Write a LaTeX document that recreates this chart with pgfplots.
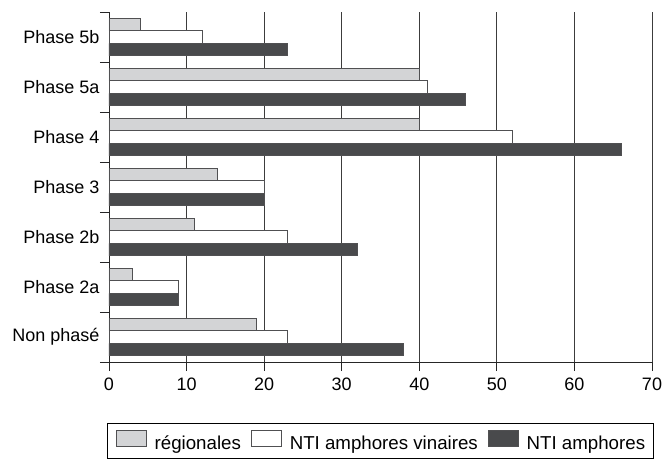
\documentclass[border=0pt]{standalone}
\usepackage{fontspec}
\setmainfont{Liberation Sans}
\usepackage{pgfplots}
\usepackage{pgfplotstable}
\pgfplotsset{compat=1.18}

\definecolor{barlight}{RGB}{211,212,214}
\definecolor{bardark}{RGB}{73,74,76}
\definecolor{baredge}{RGB}{80,80,82}
\definecolor{gridc}{RGB}{60,60,60}

% y: 0 = Non phasé ... 6 = Phase 5b
\pgfplotstableread{
pos reg vin amph
0 19 23 38
1 3  9  9
2 11 23 32
3 14 20 20
4 40 52 66
5 40 41 46
6 4  12 23
}\phases

\newcommand{\lab}{\fontsize{18}{22}\selectfont}
\newcommand{\leg}{\fontsize{18.7}{22}\selectfont}

\begin{document}
\begin{tikzpicture}
\path[use as bounding box] (-109pt,-97pt) rectangle (554pt,362pt);
\begin{axis}[
  at={(0pt,0pt)}, anchor=south west,
  scale only axis, width=543pt, height=350pt,
  xbar, bar width=12.5pt,
  xmin=0, xmax=70, ymin=-0.5, ymax=6.5,
  axis x line=bottom, axis y line=left,
  axis line style={-, line width=0.9pt, black!85},
  xtick={0,10,...,70},
  ytick={-0.5,0.5,...,6.5},
  yticklabels={Non phasé,Phase 2a,Phase 2b,Phase 3,Phase 4,Phase 5a,Phase 5b},
  y tick label as interval,
  tick align=outside, major tick length=9pt,
  tick style={line width=0.9pt, black!85},
  xmajorgrids, grid style={line width=0.9pt, gridc},
  tick label style={font=\lab},
  yticklabel style={xshift=3pt},
  xticklabel style={yshift=-3pt},
  /pgf/number format/assume math mode=true,
  legend style={at={(0.5,-0.174)}, anchor=north, legend columns=3,
    draw=black, line width=0.8pt, font=\leg, inner xsep=8.5pt, inner ysep=7pt,
    nodes={inner sep=0pt},
    /tikz/every odd column/.append style={column sep=8pt},
    /tikz/every even column/.append style={column sep=10pt}},
  legend image code/.code={\draw[#1,/tikz/.cd,bar shift=0pt] (0pt,-3pt) rectangle (30pt,13pt);},
]
\addplot[fill=barlight, draw=baredge, line width=0.8pt, bar shift=12.5pt] table[x=reg, y=pos] {\phases};
\addlegendentry{régionales}
\addplot[fill=white, draw=baredge, line width=0.8pt, bar shift=0pt] table[x=vin, y=pos] {\phases};
\addlegendentry{NTI amphores vinaires}
\addplot[fill=bardark, draw=baredge, line width=0.8pt, bar shift=-12.5pt] table[x=amph, y=pos] {\phases};
\addlegendentry{NTI amphores}
\end{axis}
\end{tikzpicture}
\end{document}
